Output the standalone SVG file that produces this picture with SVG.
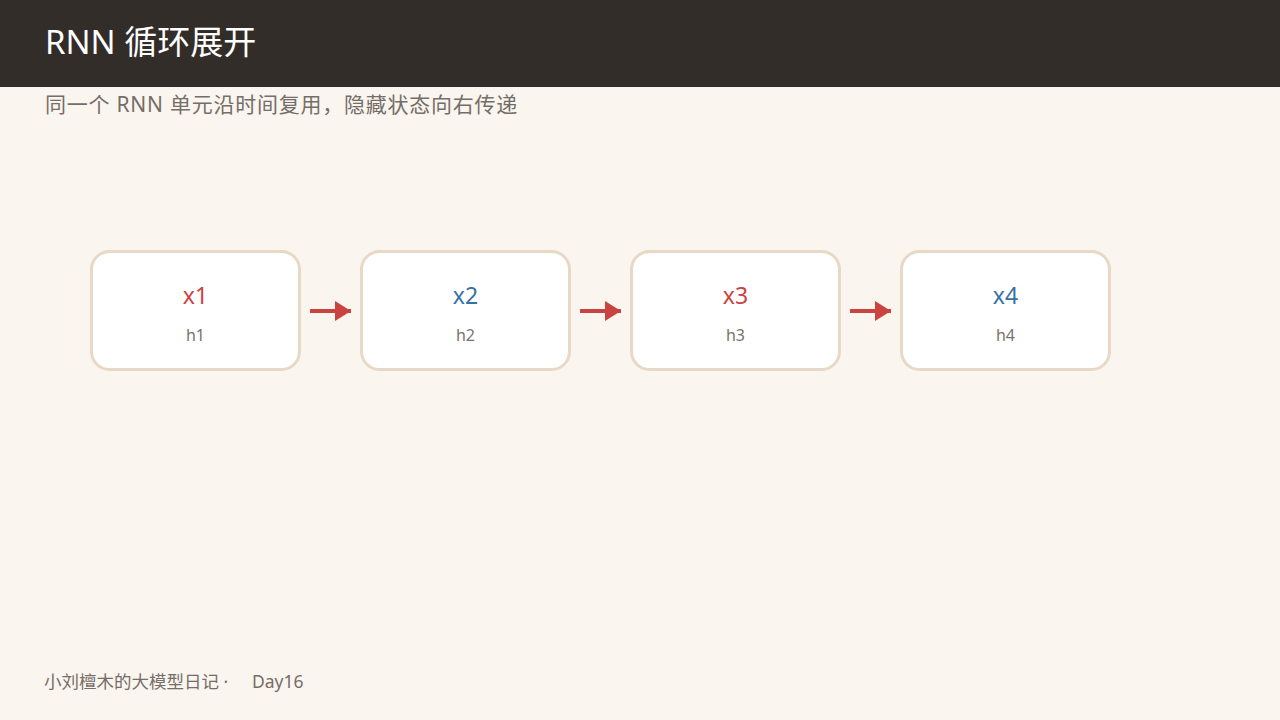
<svg xmlns="http://www.w3.org/2000/svg" width="1280" height="720" viewBox="0 0 1280 720">
<defs>
<style>
text{font-family:"Noto Sans","Noto Sans CJK SC",sans-serif;}
.box{fill:#ffffff;stroke:#e8d9c7;stroke-width:3;}
.x{font-size:23px;text-anchor:middle;}
.h{font-size:16px;text-anchor:middle;fill:#7a726c;}
.red{fill:#c94441;}
.blue{fill:#3572a5;}
.conn{stroke:#c94441;stroke-width:4;fill:none;}
</style>
<marker id="ah" markerWidth="4" markerHeight="5" refX="4" refY="2.5" orient="auto" markerUnits="strokeWidth">
<path d="M0,0 L4,2.5 L0,5 Z" fill="#c94441"/>
</marker>
</defs>
<rect width="1280" height="720" fill="#faf5ef"/>
<rect width="1280" height="87" fill="#332d29"/>
<text x="45" y="54" font-size="33" fill="#ffffff">RNN 循环展开</text>
<text x="45" y="112" font-size="21" letter-spacing="0.75" fill="#756e68">同一个 RNN 单元沿时间复用，隐藏状态向右传递</text>
<g id="node1"><rect class="box" x="91.5" y="251.5" width="208" height="118" rx="18"/><text class="x red" x="195.5" y="304">x1</text><text class="h" x="195.5" y="341">h1</text></g>
<g id="node2"><rect class="box" x="361.5" y="251.5" width="208" height="118" rx="18"/><text class="x blue" x="465.5" y="304">x2</text><text class="h" x="465.5" y="341">h2</text></g>
<g id="node3"><rect class="box" x="631.5" y="251.5" width="208" height="118" rx="18"/><text class="x red" x="735.5" y="304">x3</text><text class="h" x="735.5" y="341">h3</text></g>
<g id="node4"><rect class="box" x="901.5" y="251.5" width="208" height="118" rx="18"/><text class="x blue" x="1005.5" y="304">x4</text><text class="h" x="1005.5" y="341">h4</text></g>
<g id="connectors">
<line class="conn" x1="310" y1="311" x2="351" y2="311" marker-end="url(#ah)"/>
<line class="conn" x1="580" y1="311" x2="621" y2="311" marker-end="url(#ah)"/>
<line class="conn" x1="850" y1="311" x2="891" y2="311" marker-end="url(#ah)"/>
</g>
<text y="688" font-size="17.5" fill="#756e68"><tspan x="44">小刘檀木的大模型日记 ·</tspan><tspan x="252">Day16</tspan></text>
</svg>
